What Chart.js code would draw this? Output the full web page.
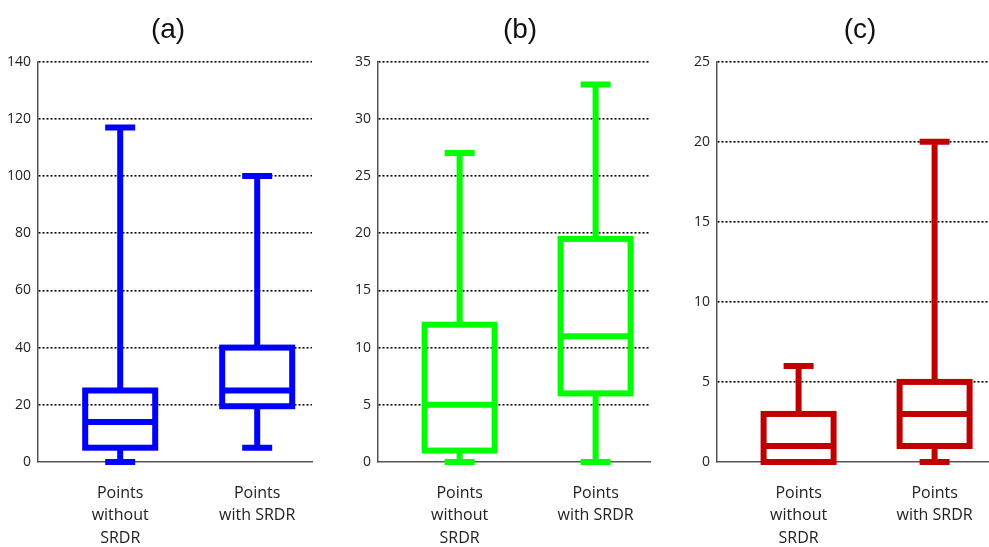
<!DOCTYPE html>
<html lang="en">
<head>
<meta charset="UTF-8">
<title>Points with and without SRDR</title>
<style>
  body { margin: 0; background: #fff; overflow: hidden; width: 989px; height: 547px; position: relative; }
  .panel { position: absolute; top: 0; height: 547px; }
  #panelA { left: 0; width: 336px; }
  #panelB { left: 340px; width: 360px; }
  #panelC { left: 680px; width: 360px; }
</style>
<script src="https://cdn.jsdelivr.net/npm/chart.js@4.4.1/dist/chart.umd.min.js"></script>
</head>
<body>
<div class="panel" id="panelA"><canvas id="chartA"></canvas></div>
<div class="panel" id="panelB"><canvas id="chartB"></canvas></div>
<div class="panel" id="panelC"><canvas id="chartC"></canvas></div>
<script>
// categories shared by all three panels
const categories = [['Points', 'without', 'SRDR'], ['Points', 'with SRDR']];
const panelTitles = ['(a)', '(b)', '(c)'];

// (a) lower whisker, Q1, median, Q3, upper whisker
const aMin = [0, 5];
const aQ1 = [5, 19.5];
const aMedian = [14, 25];
const aQ3 = [25, 40];
const aMax = [117, 100];

// (b)
const bMin = [0, 0];
const bQ1 = [1, 6];
const bMedian = [5, 11];
const bQ3 = [12, 19.5];
const bMax = [27, 33];

// (c)
const cMin = [0, 0];
const cQ1 = [0, 1];
const cMedian = [1, 3];
const cQ3 = [3, 5];
const cMax = [6, 20];

// y axis ranges
const yMaxes = [140, 35, 25];
const ySteps = [20, 5, 5];

Chart.defaults.font.family = '"Open Sans", sans-serif';

// draws whiskers, caps, boxes and medians using the chart's own scales
const boxPlotPlugin = {
  id: 'boxPlot',
  afterDatasetsDraw(chart, args, opts) {
    const { ctx, scales: { x, y } } = chart;
    const s = opts.stats;
    ctx.save();
    ctx.strokeStyle = opts.color;
    ctx.lineWidth = opts.lineWidth;
    ctx.lineJoin = 'miter';
    ctx.lineCap = 'butt';
    s.median.forEach((_, i) => {
      const cx = x.getPixelForValue(i + 1);
      const yMin = y.getPixelForValue(s.min[i]);
      const yQ1 = y.getPixelForValue(s.q1[i]);
      const yMed = y.getPixelForValue(s.median[i]);
      const yQ3 = y.getPixelForValue(s.q3[i]);
      const yMax = y.getPixelForValue(s.max[i]);
      const hb = opts.boxHalf, hc = opts.capHalf;

      ctx.beginPath();
      ctx.moveTo(cx, yMax); ctx.lineTo(cx, yQ3);
      ctx.moveTo(cx, yQ1); ctx.lineTo(cx, yMin);
      ctx.moveTo(cx - hc, yMax); ctx.lineTo(cx + hc, yMax);
      ctx.moveTo(cx - hc, yMin); ctx.lineTo(cx + hc, yMin);
      ctx.moveTo(cx - hb, yMed); ctx.lineTo(cx + hb, yMed);
      ctx.stroke();
      ctx.strokeRect(cx - hb, yQ3, hb * 2, yQ1 - yQ3);
    });
    ctx.restore();
  }
};

function makeChart(id, idx, stats, color, yWidth, rightGap) {
  new Chart(document.getElementById(id), {
    type: 'scatter',
    data: { datasets: [] },
    plugins: [boxPlotPlugin],
    options: {
      responsive: true,
      maintainAspectRatio: false,
      animation: false,
      layout: { padding: 0 },
      plugins: {
        legend: { display: false },
        tooltip: { enabled: false },
        title: {
          display: true,
          text: panelTitles[idx],
          color: '#111',
          font: { family: '"Liberation Sans", Arial, sans-serif', size: 28, weight: 'normal' },
          padding: { top: 13, bottom: 15 }
        },
        boxPlot: { stats: stats, color: color, lineWidth: 6, boxHalf: 35, capHalf: 15 }
      },
      scales: {
        x: {
          type: 'linear',
          min: 0.4,
          max: 2.4,
          afterBuildTicks: scale => { scale.ticks = [{ value: 1 }, { value: 2 }]; },
          afterFit: scale => { scale.height = 85; },
          grid: { display: false, drawTicks: false },
          border: { display: true, color: '#555', width: 1.5 },
          ticks: {
            autoSkip: false,
            maxRotation: 0,
            padding: 20,
            color: '#222',
            font: { size: 16, lineHeight: 1.4 },
            callback: v => categories[v - 1]
          }
        },
        y: {
          min: 0,
          max: yMaxes[idx],
          afterFit: scale => { scale.width = yWidth; },
          grid: {
            drawTicks: false,
            color: c => (c.tick && c.tick.value === 0 ? 'rgba(0,0,0,0)' : '#000'),
            lineWidth: 1.6
          },
          border: { display: true, color: '#555', width: 1.5, dash: [2, 2] },
          ticks: {
            stepSize: ySteps[idx],
            padding: 7,
            color: '#222',
            font: { size: 14 }
          }
        },
        // empty right-hand axis that only reserves the space beside the plot
        gap: {
          position: 'right',
          min: 0,
          max: 1,
          afterFit: scale => { scale.width = rightGap; },
          grid: { display: false, drawTicks: false },
          border: { display: false },
          ticks: { display: false }
        }
      }
    }
  });
}

makeChart('chartA', 0, { min: aMin, q1: aQ1, median: aMedian, q3: aQ3, max: aMax }, '#0000ff', 38, 24);
makeChart('chartB', 1, { min: bMin, q1: bQ1, median: bMedian, q3: bQ3, max: bMax }, '#00ff00', 38, 50);
makeChart('chartC', 2, { min: cMin, q1: cQ1, median: cMedian, q3: cQ3, max: cMax }, '#c00000', 37, 51);
</script>
</body>
</html>
